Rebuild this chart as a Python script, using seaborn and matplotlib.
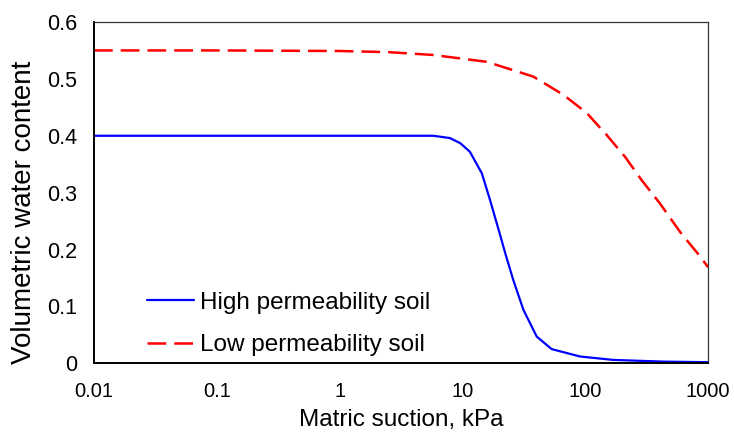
import matplotlib
matplotlib.use("Agg")
import matplotlib.pyplot as plt
import matplotlib.ticker as mticker
import seaborn as sns
import pandas as pd

# Data
suction_high = [0.01, 0.1, 1, 5.8, 7.9, 9.6, 11.5, 14.4, 16.8, 20.2, 22.3, 26, 31.4, 40.3, 53.3, 90.8, 169, 433, 1000]
theta_high = [0.400, 0.400, 0.400, 0.400, 0.396, 0.387, 0.372, 0.334, 0.287, 0.227, 0.194, 0.146, 0.094, 0.047, 0.025, 0.012, 0.006, 0.003, 0.002]

suction_low = [0.01, 0.1, 1, 2.5, 5.8, 15.8, 37.8, 66.4, 103, 150, 211, 288, 406, 592, 861, 1000]
theta_low = [0.550, 0.550, 0.549, 0.547, 0.542, 0.530, 0.504, 0.472, 0.440, 0.401, 0.363, 0.322, 0.281, 0.231, 0.188, 0.169]

label_high = "High permeability soil"
label_low = "Low permeability soil"
x_ticks = [0.01, 0.1, 1, 10, 100, 1000]
x_tick_labels = ["0.01", "0.1", "1", "10", "100", "1000"]
y_ticks = [0, 0.1, 0.2, 0.3, 0.4, 0.5, 0.6]
y_tick_labels = ["0", "0.1", "0.2", "0.3", "0.4", "0.5", "0.6"]

sns.set_theme(style="white")
plt.rcParams["font.family"] = ["Liberation Sans", "DejaVu Sans"]

df_high = pd.DataFrame({"suction": suction_high, "theta": theta_high})
df_low = pd.DataFrame({"suction": suction_low, "theta": theta_low})

fig = plt.figure(figsize=(7.34, 4.37), dpi=100)
ax = fig.add_axes([0.128, 0.1686, 0.8366, 0.7811])

sns.lineplot(data=df_high, x="suction", y="theta", ax=ax, color="#0000ff",
             linewidth=1.6, estimator=None, sort=True, label=label_high)
sns.lineplot(data=df_low, x="suction", y="theta", ax=ax, color="#ff0000",
             linewidth=1.8, estimator=None, sort=True, label=label_low,
             linestyle=(0, (7.5, 3.2)))

ax.set_xscale("log")
ax.set_xlim(0.01, 1000)
ax.set_ylim(0, 0.6)
ax.set_xticks(x_ticks)
ax.set_xticklabels(x_tick_labels)
ax.xaxis.set_minor_locator(mticker.NullLocator())
ax.set_yticks(y_ticks)
ax.set_yticklabels(y_tick_labels)

ax.tick_params(axis="both", which="major", direction="inout", length=8.5,
               width=1.0, color="black", labelcolor="black")
ax.tick_params(axis="x", labelsize=14.5, pad=9)
ax.tick_params(axis="y", labelsize=15.5, pad=8)

ax.set_xlabel("Matric suction, kPa", fontsize=17.5, color="black", labelpad=6)
ax.set_ylabel("Volumetric water content", fontsize=20, color="black")
ax.yaxis.set_label_coords(-0.0935, 0.443)

for side in ["left", "bottom"]:
    ax.spines[side].set_color("black")
    ax.spines[side].set_linewidth(1.4)
for side in ["top", "right"]:
    ax.spines[side].set_color("#333333")
    ax.spines[side].set_linewidth(0.9)

leg = ax.legend(loc="center left", bbox_to_anchor=(0.0863, 0.115), frameon=False,
                fontsize=17.5, handlelength=1.95, handletextpad=0.25, labelspacing=0.85,
                borderaxespad=0, borderpad=0)
for t in leg.get_texts():
    t.set_color("black")

fig.savefig("out.png", dpi=100)
